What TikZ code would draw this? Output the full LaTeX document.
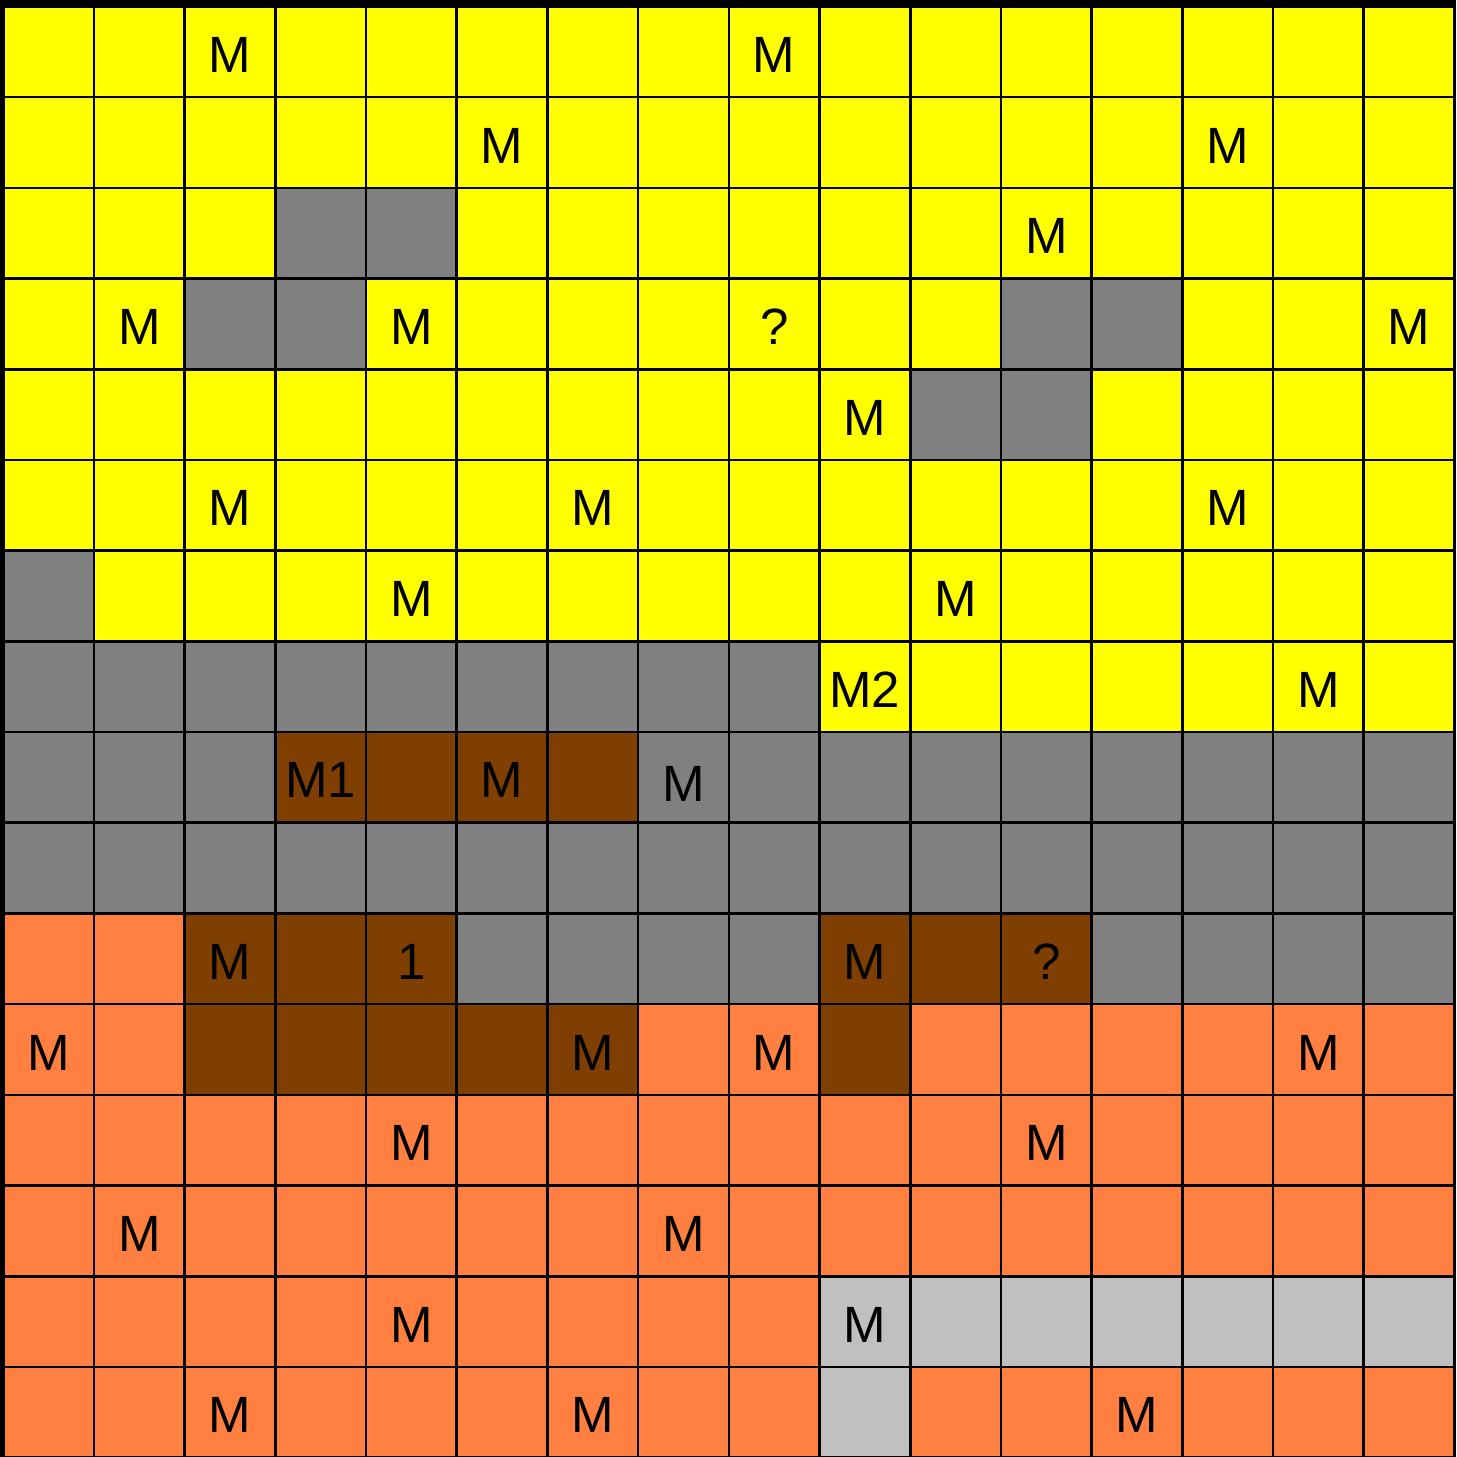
\documentclass[tikz,border=0pt]{standalone}
\usepackage{fontspec}
\setmainfont{Liberation Sans}
\definecolor{cY}{HTML}{FFFF00}
\definecolor{cG}{HTML}{808080}
\definecolor{cB}{HTML}{7F3F00}
\definecolor{cO}{HTML}{FF8040}
\definecolor{cL}{HTML}{C0C0C0}
\tikzset{
  cell/.style={minimum size=1cm, inner sep=0pt, outer sep=0pt, font=\fontsize{16}{19}\selectfont, text height=12.9pt, text depth=0pt},
  lbl/.style={inner sep=0pt, font=\fontsize{16}{19}\selectfont},
  gridline/.style={line width=0.8pt, black}
}
\begin{document}
\begin{tikzpicture}
\useasboundingbox (-0.036,0.071) rectangle (16.017,-15.993);
\fill[black] (-0.036,0.071) rectangle (16.017,-15.993);
\foreach \row [count=\r from 0] in {%
 {Y/{},Y/{},Y/M,Y/{},Y/{},Y/{},Y/{},Y/{},Y/M,Y/{},Y/{},Y/{},Y/{},Y/{},Y/{},Y/{}},%
 {Y/{},Y/{},Y/{},Y/{},Y/{},Y/M,Y/{},Y/{},Y/{},Y/{},Y/{},Y/{},Y/{},Y/M,Y/{},Y/{}},%
 {Y/{},Y/{},Y/{},G/{},G/{},Y/{},Y/{},Y/{},Y/{},Y/{},Y/{},Y/M,Y/{},Y/{},Y/{},Y/{}},%
 {Y/{},Y/M,G/{},G/{},Y/M,Y/{},Y/{},Y/{},Y/?,Y/{},Y/{},G/{},G/{},Y/{},Y/{},Y/M},%
 {Y/{},Y/{},Y/{},Y/{},Y/{},Y/{},Y/{},Y/{},Y/{},Y/M,G/{},G/{},Y/{},Y/{},Y/{},Y/{}},%
 {Y/{},Y/{},Y/M,Y/{},Y/{},Y/{},Y/M,Y/{},Y/{},Y/{},Y/{},Y/{},Y/{},Y/M,Y/{},Y/{}},%
 {G/{},Y/{},Y/{},Y/{},Y/M,Y/{},Y/{},Y/{},Y/{},Y/{},Y/M,Y/{},Y/{},Y/{},Y/{},Y/{}},%
 {G/{},G/{},G/{},G/{},G/{},G/{},G/{},G/{},G/{},Y/M2,Y/{},Y/{},Y/{},Y/{},Y/M,Y/{}},%
 {G/{},G/{},G/{},B/M1,B/{},B/M,B/{},G/{},G/{},G/{},G/{},G/{},G/{},G/{},G/{},G/{}},%
 {G/{},G/{},G/{},G/{},G/{},G/{},G/{},G/{},G/{},G/{},G/{},G/{},G/{},G/{},G/{},G/{}},%
 {O/{},O/{},B/M,B/{},B/1,G/{},G/{},G/{},G/{},B/M,B/{},B/?,G/{},G/{},G/{},G/{}},%
 {O/M,O/{},B/{},B/{},B/{},B/{},B/M,O/{},O/M,B/{},O/{},O/{},O/{},O/{},O/M,O/{}},%
 {O/{},O/{},O/{},O/{},O/M,O/{},O/{},O/{},O/{},O/{},O/{},O/M,O/{},O/{},O/{},O/{}},%
 {O/{},O/M,O/{},O/{},O/{},O/{},O/{},O/M,O/{},O/{},O/{},O/{},O/{},O/{},O/{},O/{}},%
 {O/{},O/{},O/{},O/{},O/M,O/{},O/{},O/{},O/{},L/M,L/{},L/{},L/{},L/{},L/{},L/{}},%
 {O/{},O/{},O/M,O/{},O/{},O/{},O/M,O/{},O/{},L/{},O/{},O/{},O/M,O/{},O/{},O/{}}%
}{
  \foreach \c/\t [count=\i from 0] in \row {
    \node[cell, fill=c\c] (n\r-\i) at (\i+0.5,-\r-0.5) {\t};
  }
}
\node[lbl] (m87) at ([yshift=-0.07cm]n8-7.center) {M};
\draw[gridline] (0,0) grid (16,-16);
\draw[gridline] (0,0) rectangle (16,-16);
\end{tikzpicture}
\end{document}
